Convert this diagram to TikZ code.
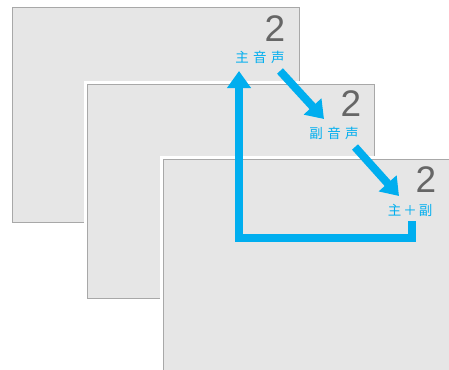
\documentclass[tikz,border=0pt]{standalone}
\usepackage{fontspec}
\newfontfamily\jpfont{Noto Sans CJK JP}
\newfontfamily\digitfont{Liberation Sans}
\usetikzlibrary{arrows.meta}
\definecolor{panelfill}{HTML}{E6E6E6}
\definecolor{panelline}{HTML}{A8A8A8}
\definecolor{digitgray}{HTML}{666666}
\definecolor{cyanblue}{HTML}{00AEEF}
\tikzset{
  panel/.style={draw=panelline, line width=1pt, fill=panelfill,
    minimum width=287pt, minimum height=214pt, inner sep=0pt,
    preaction={draw=white, line width=6pt}},
  digit/.style={text=digitgray, font=\digitfont\fontsize{37}{37}\selectfont, inner sep=0pt},
  jlabel/.style={text=cyanblue, font=\jpfont\fontsize{13.5}{14}\selectfont, inner sep=0pt},
  flow/.style={draw=cyanblue, line width=8pt,
    -{Triangle[length=17pt,width=23pt]}},
}
\begin{document}
\begin{tikzpicture}[x=1pt,y=-1pt]
\useasboundingbox (0,0) rectangle (449,369);
\clip (0,0) rectangle (449,369);
\node[panel] (p1) at (155.5,115) {};
\node[panel] (p2) at (230.5,191) {};
\node[panel] (p3) at (306.5,266) {};
\node[digit] (d1) at (275,29) {2};
\node[digit] (d2) at (351,104) {2};
\node[digit] (d3) at (426,180) {2};
\node[jlabel] (l1) at (260,57) {主\hspace{4.5pt}音\hspace{4.5pt}声};
\node[jlabel] (l2) at (334,133) {副\hspace{4.5pt}音\hspace{4.5pt}声};
\node[jlabel] (l3) at (410,210) {主\hspace{2pt}＋\hspace{2pt}副};
\coordinate (a1s) at (280,71);
\coordinate (a1e) at (324,119);
\coordinate (a2s) at (355,147);
\coordinate (a2e) at (399,196);
\coordinate (r1) at (412,221);
\coordinate (r2) at (412,238);
\coordinate (r3) at (239,238);
\coordinate (r4) at (239,71);
\draw[flow] (a1s) -- (a1e);
\draw[flow] (a2s) -- (a2e);
\draw[flow] (r1) -- (r2) -- (r3) -- (r4);
\end{tikzpicture}
\end{document}
